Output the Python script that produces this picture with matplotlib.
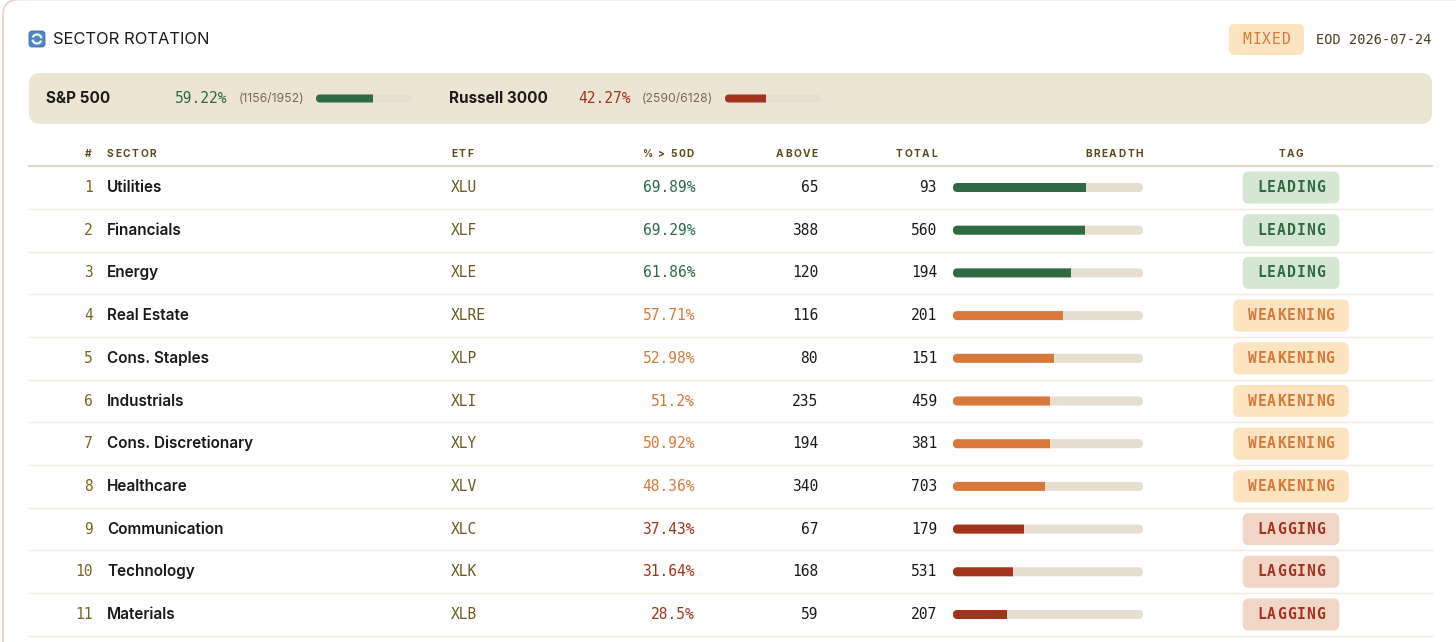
import matplotlib
matplotlib.use("Agg")
import matplotlib.pyplot as plt
from matplotlib.patches import FancyBboxPatch, Rectangle, Arc
from matplotlib.font_manager import FontProperties

# ---- data ----
sectors = ["Utilities", "Financials", "Energy", "Real Estate", "Cons. Staples", "Industrials",
           "Cons. Discretionary", "Healthcare", "Communication", "Technology", "Materials"]
etfs = ["XLU", "XLF", "XLE", "XLRE", "XLP", "XLI", "XLY", "XLV", "XLC", "XLK", "XLB"]
pct_above = [69.89, 69.29, 61.86, 57.71, 52.98, 51.2, 50.92, 48.36, 37.43, 31.64, 28.5]
above = [65, 388, 120, 116, 80, 235, 194, 340, 67, 168, 59]
total = [93, 560, 194, 201, 151, 459, 381, 703, 179, 531, 207]
tags = ["LEADING"] * 3 + ["WEAKENING"] * 5 + ["LAGGING"] * 3

index_names = ["S&P 500", "Russell 3000"]
index_pct = [59.22, 42.27]
index_above = [1156, 2590]
index_total = [1952, 6128]

regime = "MIXED"
as_of = "EOD 2026-07-24"
headers = ["#", "SECTOR", "ETF", "% > 50D", "ABOVE", "TOTAL", "BREADTH", "TAG"]

# ---- style ----
SANS = ["Inter", "DejaVu Sans"]
MONO = ["DejaVu Sans Mono"]
GREEN = "#2e6b45"
ORANGE = "#d7793a"
RED = "#a3321f"
OLIVE = "#6b5a22"
TRACK = "#e6ded0"
TAG_STYLE = {
    "LEADING": ("#d5e6d3", GREEN),
    "WEAKENING": ("#fde4c0", ORANGE),
    "LAGGING": ("#f1d5c6", RED),
}


def pct_color(v):
    if v >= 60:
        return GREEN
    if v >= 45:
        return ORANGE
    return RED


fig = plt.figure(figsize=(14.56, 6.42), dpi=100)
ax = fig.add_axes([0, 0, 1, 1])
ax.set_xlim(0, 1456)
ax.set_ylim(642, 0)
ax.axis("off")
renderer = fig.canvas.get_renderer()


def spaced_text(x, y, s, spacing, ha="left", **kw):
    """draw text char by char with extra letter spacing (in px)"""
    prop = FontProperties(family=kw.get("family"), size=kw.get("fontsize"),
                          weight=kw.get("fontweight", "normal"))

    def width(t):
        if not t:
            return 0.0
        w, _, _ = renderer.get_text_width_height_descent(t, prop, ismath=False)
        return w

    total_w = width(s) + spacing * (len(s) - 1)
    if ha == "center":
        x0 = x - total_w / 2
    elif ha == "right":
        x0 = x - total_w
    else:
        x0 = x
    for k, ch in enumerate(s):
        if ch == " ":
            continue
        cx = x0 + width(s[:k]) + spacing * k
        ax.text(cx, y, ch, ha="left", **kw)


def pill_bar(x0, y, width, frac, color, h):
    """rounded track + fill with rounded left end and flat right end"""
    ax.add_patch(FancyBboxPatch((x0, y - h / 2), width, h,
                                boxstyle=f"round,pad=0,rounding_size={h / 2}",
                                fc=TRACK, ec="none", zorder=2))
    w = width * frac
    fill = FancyBboxPatch((x0, y - h / 2), w + h, h,
                          boxstyle=f"round,pad=0,rounding_size={h / 2}",
                          fc=color, ec="none", zorder=3)
    ax.add_patch(fill)
    clip = Rectangle((x0, y - h / 2 - 1), w, h + 2, transform=ax.transData)
    fill.set_clip_path(clip)


def badge(cx, cy, text, bg, fg, w, h=32, weight="normal"):
    ax.add_patch(FancyBboxPatch((cx - w / 2, cy - h / 2), w, h,
                                boxstyle="round,pad=0,rounding_size=6",
                                fc=bg, ec="none", zorder=2))
    spaced_text(cx, cy, text, 1.0, ha="center", family=MONO, fontsize=10.5,
                fontweight=weight, color=fg, va="center", zorder=3)


# card (only left edge visible)
ax.add_patch(FancyBboxPatch((3, -0.5), 1480, 700, boxstyle="round,pad=0,rounding_size=16",
                            fc="white", ec="#e4d6bf", lw=1.2, zorder=0))

# ---- title bar ----
ax.add_patch(FancyBboxPatch((29, 31), 16, 16, boxstyle="round,pad=0,rounding_size=3",
                            fc="#4f86c6", ec="#3d6fa8", lw=0.6, zorder=2))
ax.add_patch(Arc((37, 39), 9, 9, theta1=20, theta2=170, color="white", lw=1.6, zorder=3))
ax.add_patch(Arc((37, 39), 9, 9, theta1=200, theta2=350, color="white", lw=1.6, zorder=3))
ax.text(53, 40, "SECTOR ROTATION", family=SANS, fontsize=11.9, color="#1c1c1c",
        ha="left", va="center")

badge(1266.5, 39.5, regime, "#fde4c0", ORANGE, 75, 31)
ax.text(1432, 39.5, as_of, family=MONO, fontsize=9.8, color="#4a3f20", ha="right", va="center")

# ---- index summary band ----
ax.add_patch(FancyBboxPatch((29, 73), 1403, 51, boxstyle="round,pad=0,rounding_size=11",
                            fc="#ede5d4", ec="none", zorder=1))
band_y = 98.5
group_x = [46, 449]
bar_x = [316, 725]
for gx, bx, name, p, a, t in zip(group_x, bar_x, index_names, index_pct, index_above, index_total):
    col = GREEN if p >= 50 else RED
    ax.text(gx, band_y, name, family=SANS, fontsize=11, fontweight="bold",
            color="#1c1c1c", ha="left", va="center")
    ax.text(gx + 129, band_y, f"{p:.2f}%", family=MONO, fontsize=10.5, color=col,
            ha="left", va="center")
    ax.text(gx + 193, band_y, f"({a}/{t})", family=SANS, fontsize=8.8, color="#7a6a55",
            ha="left", va="center")
    pill_bar(bx, band_y, 96, p / 100, col, 8)

# ---- table header ----
hdr_y = 154
hdr_kw = dict(family=SANS, fontsize=7.3, fontweight="bold", color="#5a4a1c", va="center")
hdr_x = [92, 107, 451, 694, 818, 937, 1143, 1291]
hdr_ha = ["right", "left", "left", "right", "right", "right", "right", "center"]
for hx, ha, label in zip(hdr_x, hdr_ha, headers):
    spaced_text(hx, hdr_y, label, 1.6, ha=ha, **hdr_kw)
ax.plot([29, 1432], [166, 166], color="#d9cdb6", lw=1.2, zorder=1)

# ---- rows ----
row0, row_h = 187.5, 42.7
for i, (sec, etf, p, a, t, tag) in enumerate(zip(sectors, etfs, pct_above, above, total, tags)):
    y = row0 + i * row_h
    col = pct_color(p)
    ax.text(93, y, str(i + 1), family=MONO, fontsize=10.5, color="#7a6520", ha="right", va="center")
    ax.text(107, y, sec, family=SANS, fontsize=11, fontweight="semibold", color="#1a1a1a",
            ha="left", va="center")
    ax.text(451, y, etf, family=MONO, fontsize=10.5, color=OLIVE, ha="left", va="center")
    ax.text(695, y, f"{p:g}%", family=MONO, fontsize=10.5, color=col, ha="right", va="center")
    ax.text(818, y, str(a), family=MONO, fontsize=10.5, color="#1a1a1a", ha="right", va="center")
    ax.text(937, y, str(t), family=MONO, fontsize=10.5, color="#1a1a1a", ha="right", va="center")
    pill_bar(953, y, 190, p / 100, col, 9)
    bg, fg = TAG_STYLE[tag]
    badge(1291, y, tag, bg, fg, len(tag) * 9.5 + 30, weight="bold")
    ax.plot([29, 1432], [y + row_h / 2, y + row_h / 2], color="#f0eadf", lw=1, zorder=1)

fig.savefig("out.png", dpi=100, facecolor="white")
